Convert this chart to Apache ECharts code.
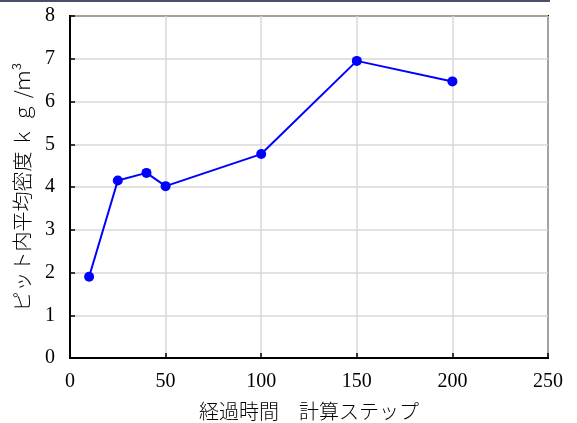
<!DOCTYPE html>
<html><head><meta charset="utf-8">
<script src="https://cdn.jsdelivr.net/npm/echarts@6/dist/echarts.min.js"></script>
<style>html,body{margin:0;padding:0;background:#fff;}#c{width:577px;height:423px;}#bar{position:absolute;left:0;top:0;width:550px;height:2px;background:#4a5068;}</style>
</head><body><div id="bar"></div><div id="c"></div>
<script>
const steps = [10, 25, 40, 50, 100, 150, 200];
const density = [1.9, 4.15, 4.33, 4.02, 4.77, 6.95, 6.47];
const xName = '経過時間　計算ステップ';
const yName = 'ピット内平均密度 ｋ ｇ /ｍ³';
const chart = echarts.init(document.getElementById('c'));
const numFont = {fontFamily: 'Liberation Serif', fontSize: 20, color: '#000'};
chart.setOption({
  animation: false,
  grid: {left: 70, right: 29, top: 16, bottom: 65, show: true, borderColor: '#000', borderWidth: 2,
         backgroundColor: 'transparent', outerBoundsMode: 'none', containLabel: false},
  xAxis: {
    type: 'value', min: 0, max: 250, interval: 50,
    name: xName, nameLocation: 'middle', nameGap: 43,
    nameTextStyle: {fontFamily: 'Noto Sans CJK JP', fontSize: 20, color: '#000', fontWeight: 300},
    axisLine: {lineStyle: {color: '#000', width: 2}},
    axisTick: {inside: true, length: 5, lineStyle: {color: '#000', width: 1.5}},
    axisLabel: Object.assign({margin: 14}, numFont),
    splitLine: {lineStyle: {color: '#d9d9d9', width: 1.5}}
  },
  yAxis: {
    type: 'value', min: 0, max: 8, interval: 1,
    name: yName, nameLocation: 'middle', nameGap: 38,
    nameTextStyle: {fontFamily: 'Noto Sans CJK JP', fontSize: 20, color: '#000', fontWeight: 300},
    axisLine: {lineStyle: {color: '#000', width: 2}},
    axisTick: {inside: true, length: 5, lineStyle: {color: '#000', width: 1.5}},
    axisLabel: Object.assign({margin: 15}, numFont),
    splitLine: {lineStyle: {color: '#d9d9d9', width: 1.5}}
  },
  series: [{
    type: 'line',
    data: steps.map((s, i) => [s, density[i]]),
    symbol: 'circle', symbolSize: 10,
    lineStyle: {color: '#0000ff', width: 2},
    itemStyle: {color: '#0000ff'}
  }]
});
</script></body></html>
